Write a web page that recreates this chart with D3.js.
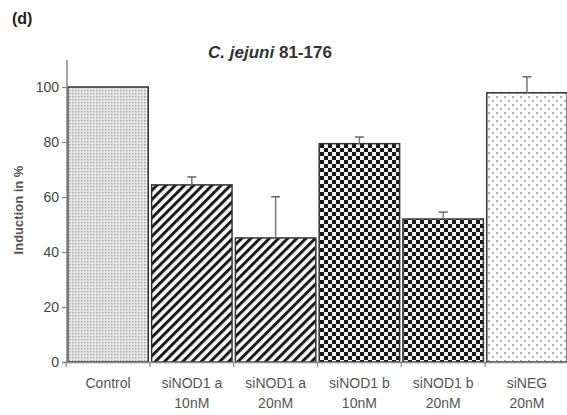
<!DOCTYPE html>
<html><head><meta charset="utf-8">
<script src="https://cdn.jsdelivr.net/npm/d3@7"></script>
<style>body{margin:0;background:#fff}svg{display:block}text{font-family:"Liberation Sans",Arial,sans-serif}</style>
</head><body>
<script>
const categories = [["Control"],["siNOD1 a","10nM"],["siNOD1 a","20nM"],["siNOD1 b","10nM"],["siNOD1 b","20nM"],["siNEG","20nM"]];
const values = [100, 64.4, 45.1, 79.4, 52, 97.9];
const errors = [0, 2.9, 15, 2.4, 2.5, 5.8];
const patterns = ["dots","stripes","stripes","checks","checks","sparse"];
const yTicks = [0,20,40,60,80,100];

const W=567,H=415;
const svg=d3.select("body").append("svg").attr("width",W).attr("height",H);
const defs=svg.append("defs");
const pd=defs.append("pattern").attr("id","dots").attr("patternUnits","userSpaceOnUse").attr("width",3).attr("height",3);
pd.append("rect").attr("width",3).attr("height",3).attr("fill","#e6e6e6");
pd.append("rect").attr("width",1.4).attr("height",1.4).attr("fill","#a8a8a8");
const ps=defs.append("pattern").attr("id","stripes").attr("patternUnits","userSpaceOnUse").attr("width",6.5).attr("height",6.5).attr("patternTransform","rotate(45)");
ps.append("rect").attr("width",6.5).attr("height",6.5).attr("fill","#fff");
ps.append("rect").attr("width",3).attr("height",6.5).attr("fill","#1a1a1a");
const pc=defs.append("pattern").attr("id","checks").attr("patternUnits","userSpaceOnUse").attr("width",8).attr("height",8);
pc.append("rect").attr("width",8).attr("height",8).attr("fill","#f4f4f4");
pc.append("rect").attr("width",4).attr("height",4).attr("fill","#1a1a1a");
pc.append("rect").attr("x",4).attr("y",4).attr("width",4).attr("height",4).attr("fill","#1a1a1a");
const pn=defs.append("pattern").attr("id","sparse").attr("patternUnits","userSpaceOnUse").attr("width",8).attr("height",8);
pn.append("rect").attr("width",8).attr("height",8).attr("fill","#fbfbfb");
pn.append("rect").attr("x",0).attr("y",0).attr("width",2).attr("height",2).attr("fill","#b0b0b0");
pn.append("rect").attr("x",4).attr("y",4).attr("width",2).attr("height",2).attr("fill","#b0b0b0");

const x=d3.scaleBand().domain(d3.range(categories.length)).range([67,568]).paddingInner(0.04).paddingOuter(0.01);
const y=d3.scaleLinear().domain([0,100]).range([362,87]);

svg.selectAll("rect.bar").data(values).join("rect").attr("class","bar")
 .attr("x",(d,i)=>x(i)).attr("width",x.bandwidth())
 .attr("y",d=>y(d)).attr("height",d=>y(0)-y(d))
 .attr("fill",(d,i)=>`url(#${patterns[i]})`).attr("stroke","#333").attr("stroke-width",1.5);

const eb=svg.selectAll("g.err").data(values.map((v,i)=>({v,e:errors[i],i})).filter(d=>d.e>0)).join("g").attr("class","err");
eb.append("line").attr("x1",d=>x(d.i)+x.bandwidth()/2).attr("x2",d=>x(d.i)+x.bandwidth()/2)
 .attr("y1",d=>y(d.v)).attr("y2",d=>y(d.v+d.e)).attr("stroke","#777").attr("stroke-width",1.5);
eb.append("line").attr("x1",d=>x(d.i)+x.bandwidth()/2-4.5).attr("x2",d=>x(d.i)+x.bandwidth()/2+4.5)
 .attr("y1",d=>y(d.v+d.e)).attr("y2",d=>y(d.v+d.e)).attr("stroke","#666").attr("stroke-width",1.5);

const ya=svg.append("g").attr("transform","translate(67,0)").call(d3.axisLeft(y).tickValues(yTicks).tickSize(5).tickPadding(3));
ya.select(".domain").remove();
ya.append("line").attr("x1",0).attr("x2",0).attr("y1",60).attr("y2",363).attr("stroke","#888").attr("stroke-width",1.5);
ya.selectAll(".tick line").attr("stroke","#888").attr("stroke-width",1.2);
ya.selectAll(".tick text").attr("font-size",14).attr("fill","#444");

const xa=svg.append("g");
xa.append("line").attr("x1",62).attr("x2",568).attr("y1",362.5).attr("y2",362.5).attr("stroke","#888").attr("stroke-width",1.5);
const step=x.step();
xa.selectAll("line.tk").data(d3.range(categories.length)).join("line").attr("class","tk")
 .attr("x1",i=>x(i)-step*x.paddingInner()/2).attr("x2",i=>x(i)-step*x.paddingInner()/2)
 .attr("y1",362).attr("y2",367).attr("stroke","#888").attr("stroke-width",1.2);
const lab=xa.selectAll("text.cat").data(categories).join("text").attr("class","cat")
 .attr("text-anchor","middle").attr("font-size",14).attr("fill","#555")
 .attr("transform",(d,i)=>`translate(${x(i)+x.bandwidth()/2},388)`);
lab.selectAll("tspan").data(d=>d).join("tspan").attr("x",0).attr("dy",(d,j)=>j===0?0:20).text(d=>d);

svg.append("text").attr("transform","translate(23,210) rotate(-90)").attr("text-anchor","middle")
 .attr("font-size",13).attr("font-weight","bold").attr("fill","#555").text("Induction in %");

const t=svg.append("text").attr("x",270).attr("y",58).attr("text-anchor","middle").attr("font-size",17).attr("font-weight","bold").attr("fill","#333");
t.append("tspan").attr("font-style","italic").text("C. jejuni");
t.append("tspan").text(" 81-176");

svg.append("text").attr("x",12).attr("y",24).attr("font-size",16).attr("font-weight","bold").attr("fill","#222").text("(d)");
</script>
</body></html>
